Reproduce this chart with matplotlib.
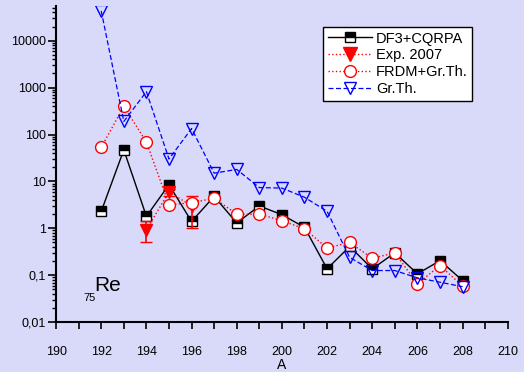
import matplotlib
matplotlib.use('Agg')
import matplotlib.pyplot as plt
from matplotlib.lines import Line2D
from matplotlib.ticker import FixedLocator, LogLocator, NullFormatter, MultipleLocator

plt.rcParams['font.family'] = ['Liberation Sans', 'DejaVu Sans']

A = [192, 193, 194, 195, 196, 197, 198, 199, 200, 201, 202, 203, 204, 205, 206, 207, 208]
df3 = [2.3, 47, 1.8, 8.5, 1.4, 4.8, 1.3, 3.0, 1.95, 1.05, 0.137, 0.41, 0.137, 0.30, 0.107, 0.205, 0.077]
frdm = [53, 400, 69, 3.2, 3.5, 4.4, 2.0, 2.0, 1.46, 0.97, 0.38, 0.50, 0.23, 0.30, 0.066, 0.16, 0.059]
grth = [43000, 190, 820, 30, 134, 15, 18, 7.4, 7.2, 4.6, 2.3, 0.24, 0.126, 0.126, 0.088, 0.071, 0.057]
exp_A = [194, 195, 196]
exp_v = [0.93, 6.0, 3.0]
exp_lo = [0.43, 1.0, 2.0]
exp_hi = [0.5, 1.0, 2.0]

bg = '#d9d9f9'
fig = plt.figure(figsize=(5.24, 3.72), dpi=100, facecolor=bg)
ax = fig.add_axes([0.107, 0.134, 0.862, 0.850], facecolor=bg)

h1, = ax.plot(A, df3, '-', color='black', lw=1, marker='s', ms=7, fillstyle='top',
              markerfacecolor='black', markerfacecoloralt='white', markeredgecolor='black',
              mew=1, zorder=3)
ax.errorbar(exp_A, exp_v, yerr=[exp_lo, exp_hi], fmt='v', color='red', ls=':', lw=1,
            ms=8, capsize=4, elinewidth=1.2, zorder=4)
h2 = Line2D([], [], color='red', ls=':', lw=1, marker='v', ms=10)
h3, = ax.plot(A, frdm, ':', color='red', lw=1, marker='o', ms=8.5, markerfacecolor='white',
              markeredgecolor='red', mew=1, zorder=5)
h4, = ax.plot(A, grth, '--', color='blue', lw=0.9, dashes=(4, 2), marker='v', ms=9,
              markerfacecolor='none', markeredgecolor='blue', mew=1, zorder=6)

ax.set_yscale('log')
ax.set_xlim(190, 210)
ax.set_ylim(0.01, 5.5e4)

ax.xaxis.set_major_locator(MultipleLocator(2))
ax.xaxis.set_minor_locator(MultipleLocator(1))
ax.yaxis.set_major_locator(FixedLocator([0.01, 0.1, 1, 10, 100, 1000, 10000]))
ax.set_yticklabels(['0,01', '0,1', '1', '10', '100', '1000', '10000'])
ax.yaxis.set_minor_locator(LogLocator(base=10, subs=range(2, 10), numticks=20))
ax.yaxis.set_minor_formatter(NullFormatter())

ax.tick_params(axis='x', which='both', direction='out', length=5, width=1.2, pad=12,
               labelsize=9)
ax.tick_params(axis='y', which='major', direction='out', length=6, width=1.2, pad=1,
               labelsize=9)
ax.tick_params(axis='y', which='minor', direction='out', length=3, width=1)

for s in ['top', 'right']:
    ax.spines[s].set_visible(False)
for s in ['left', 'bottom']:
    ax.spines[s].set_linewidth(1.5)

ax.set_xlabel('A', fontsize=10, labelpad=0)

ax.text(0.085, 0.10, 'Re', transform=ax.transAxes, fontsize=15)
ax.text(0.06, 0.068, '75', transform=ax.transAxes, fontsize=8)

leg = ax.legend([h1, h2, h3, h4], ['DF3+CQRPA', 'Exp. 2007', 'FRDM+Gr.Th.', 'Gr.Th.'],
                loc='upper right', bbox_to_anchor=(0.921, 0.933), fontsize=10.5,
                frameon=True, fancybox=False, framealpha=1, edgecolor='black',
                handlelength=3, handletextpad=0.3, borderpad=0.3, labelspacing=0.2,
                borderaxespad=0)
leg.get_frame().set_linewidth(1)

fig.savefig('out.png', dpi=100, facecolor=bg)
